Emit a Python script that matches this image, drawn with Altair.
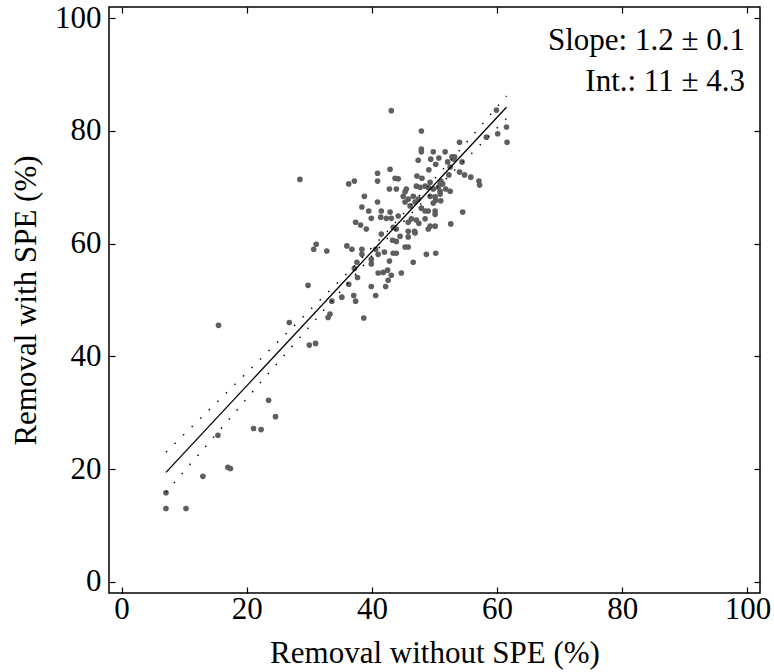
import altair as alt
import pandas as pd

# ---- scatter data (Removal without SPE %, Removal with SPE %) ----
x_without = [
    7.1, 7.1, 10.3, 13.0, 17.0, 17.4, 15.4, 15.5, 21.1, 22.3, 23.5, 24.6, 26.8, 28.5,
    31.1, 30.7, 32.8, 29.8, 33.3, 33.0, 38.7, 50.2, 30.0, 31.0,
    38.8, 40.9, 38.4, 39.5, 39.9, 37.4, 38.2, 39.1, 41.5, 42.9, 43.1, 42.3, 41.4, 44.2,
    45.0, 45.8, 46.6, 47.4, 45.3, 46.1, 46.9, 47.9, 48.5, 46.3, 47.1, 47.5, 45.8, 48.5,
    43.4, 43.9, 45.8, 46.8, 46.9, 44.5, 41.5, 45.8, 43.3, 43.9, 45.3, 45.8, 36.0, 36.8,
    38.4, 38.4, 40.6, 41.0, 42.0, 39.9, 39.9, 43.4, 43.9, 42.8, 37.6, 46.6, 48.7, 41.0,
    41.8, 42.5, 43.1, 42.6, 44.7, 37.7, 37.2, 39.9, 42.2, 36.3, 35.2, 37.1, 37.4, 40.6, 33.6,
    43.1, 47.9, 47.9, 47.9, 49.8, 49.4, 47.4, 50.2, 36.3, 37.2, 40.9, 40.9, 42.9, 43.7,
    44.2, 47.2, 48.0, 49.1, 42.8, 43.9, 45.5, 45.3, 47.1, 47.7, 48.5, 49.0, 49.8,
    59.9, 61.5, 61.6, 60.1, 58.3, 54.0, 51.7, 53.2, 50.7, 52.8, 53.1, 52.1, 54.4, 52.5,
    52.3, 54.0, 54.8, 55.8, 57.1, 57.2, 51.0, 50.9, 50.6, 51.3, 51.8, 52.5, 49.3, 50.9,
    49.3, 50.1, 50.9, 50.2, 51.0, 49.8, 49.0, 50.1, 50.1, 54.5, 49.3, 49.0, 50.1, 52.6,
]
y_with = [
    15.8, 13.0, 13.0, 18.7, 20.3, 20.1, 26.0, 45.5, 27.2, 27.0, 32.2, 29.3, 46.0, 71.4,
    59.9, 59.0, 58.7, 52.6, 47.5, 46.9, 46.8, 58.3, 42.0, 42.3,
    68.4, 67.4, 66.5, 65.8, 64.5, 63.8, 63.3, 62.6, 65.8, 65.6, 64.5, 64.5, 64.7, 64.9,
    68.4, 67.9, 68.4, 67.9, 67.4, 66.7, 67.4, 66.3, 65.8, 64.4, 64.2, 63.6, 63.8, 64.4,
    62.9, 62.6, 62.2, 62.2, 61.9, 61.3, 61.7, 61.2, 60.6, 60.4, 59.4, 59.4, 59.6, 59.0,
    59.0, 58.1, 59.0, 58.1, 58.5, 57.2, 56.4, 58.3, 58.3, 56.9, 56.7, 56.7, 58.1, 54.8,
    54.9, 55.3, 54.4, 53.5, 54.8, 54.0, 55.6, 52.4, 52.4, 52.8, 50.5, 50.8, 49.8, 50.8, 49.8,
    83.6, 80.0, 76.8, 76.3, 76.3, 75.0, 74.8, 74.1, 70.6, 71.1, 72.5, 71.1, 73.2, 71.6,
    71.5, 72.0, 71.6, 73.1, 69.7, 69.7, 69.7, 69.2, 70.2, 70.0, 70.2, 70.0, 69.7,
    83.7, 80.7, 78.0, 79.5, 78.9, 78.0, 76.3, 75.4, 75.2, 75.4, 75.0, 74.5, 74.5, 73.6,
    72.2, 72.7, 72.2, 71.8, 71.1, 70.4, 71.1, 70.6, 70.0, 70.6, 69.7, 69.3, 70.9, 69.3,
    68.4, 68.3, 68.8, 67.7, 67.6, 67.2, 65.8, 65.8, 65.2, 65.6, 63.1, 62.6, 63.1, 63.5,
]

# ---- fitted line and its confidence band ----
fit_x = [7.1, 61.5]
fit_y = [19.4, 84.2]
band_x = [7.1, 15.0, 22.0, 29.0, 36.0, 43.0, 50.0, 56.0, 61.5]
band_upper = [23.0, 31.6, 39.3, 47.0, 54.7, 62.8, 71.5, 79.1, 86.2]
band_lower = [15.9, 26.0, 35.1, 44.0, 52.8, 61.6, 69.5, 76.1, 82.2]

tick_values = [0, 20, 40, 60, 80, 100]

ann_text = ["Slope: 1.2 \u00b1 0.1", "Int.: 11 \u00b1 4.3"]
ann_x = [99.6, 99.6]
ann_y = [94.4, 87.1]

FONT = "'Liberation Serif', 'Times New Roman', Times, 'DejaVu Serif', serif"
FS = 31

pts = pd.DataFrame({"x": x_without, "y": y_with})
fit = pd.DataFrame({"x": fit_x, "y": fit_y})
band = pd.DataFrame({
    "x": band_x * 2,
    "y": band_upper + band_lower,
    "side": ["upper"] * len(band_x) + ["lower"] * len(band_x),
})
ann = pd.DataFrame({"t": ann_text, "x": ann_x, "y": ann_y})

xs = alt.Scale(domain=[-2, 102], nice=False, zero=False)
ys = alt.Scale(domain=[-2, 102], nice=False, zero=False)

x_axis_main = alt.Axis(
    orient="bottom", values=tick_values, format="d", title="Removal without SPE (%)",
    domain=False, grid=False, ticks=True, tickSize=6, offset=-6, tickColor="black",
    labelPadding=1, labelFlush=False, labelOverlap=False, titlePadding=14,
)
y_axis_main = alt.Axis(
    orient="left", values=tick_values, format="d", title="Removal with SPE (%)",
    domain=False, grid=False, ticks=True, tickSize=6, offset=-6, tickColor="black",
    labelPadding=8, labelFlush=False, labelOverlap=False, titlePadding=12,
)
x_axis_top = alt.Axis(
    orient="top", values=tick_values, labels=False, title=None,
    domain=False, grid=False, ticks=True, tickSize=6, offset=-6, tickColor="black",
)
y_axis_right = alt.Axis(
    orient="right", values=tick_values, labels=False, title=None,
    domain=False, grid=False, ticks=True, tickSize=6, offset=-6, tickColor="black",
)

points = alt.Chart(pts).mark_circle(size=32, color="#5e5e5e", opacity=1).encode(
    x=alt.X("x:Q", scale=xs, axis=x_axis_main),
    y=alt.Y("y:Q", scale=ys, axis=y_axis_main),
)

fit_line = alt.Chart(fit).mark_line(color="black", strokeWidth=1.3).encode(
    x=alt.X("x:Q", scale=xs, axis=x_axis_top),
    y=alt.Y("y:Q", scale=ys, axis=y_axis_right),
)

band_lines = alt.Chart(band).mark_line(
    color="black", strokeWidth=1.4, strokeDash=[1.5, 10.5]
).encode(
    x=alt.X("x:Q", scale=xs, axis=None),
    y=alt.Y("y:Q", scale=ys, axis=None),
    detail="side:N",
)

labels = alt.Chart(ann).mark_text(
    align="right", baseline="alphabetic", font=FONT, fontSize=FS, color="black"
).encode(
    x=alt.X("x:Q", scale=xs, axis=None),
    y=alt.Y("y:Q", scale=ys, axis=None),
    text="t:N",
)

chart = (
    alt.layer(points, band_lines, fit_line, labels)
    .resolve_axis(x="independent", y="independent")
    .properties(
        width=651, height=586,
        padding={"left": 109, "top": 7, "right": 14, "bottom": 79},
        autosize=alt.AutoSizeParams(type="none"),
        background="white",
    )
    .configure_view(stroke="black", strokeWidth=1.5)
    .configure_axis(
        labelFont=FONT, titleFont=FONT, labelFontSize=FS, titleFontSize=FS,
        labelColor="black", titleColor="black", titleFontWeight="normal",
        tickWidth=1.2,
    )
)

chart.save("out.html", embed_options={"renderer": "svg", "actions": False})
